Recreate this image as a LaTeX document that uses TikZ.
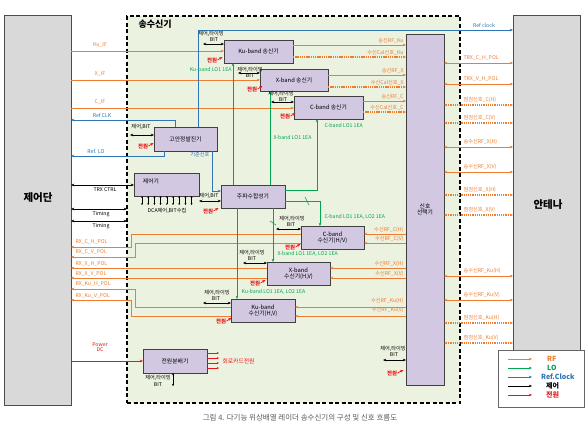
\documentclass[tikz,border=0pt]{standalone}
\usepackage{fontspec}
\setmainfont{Noto Sans CJK KR}
\usetikzlibrary{arrows.meta,calc}
\definecolor{rfc}{RGB}{237,125,49}
\definecolor{loc}{RGB}{0,166,81}
\definecolor{clkc}{RGB}{46,117,182}
\definecolor{pwc}{RGB}{235,20,20}
\definecolor{boxc}{RGB}{210,200,226}
\definecolor{innerc}{RGB}{236,242,224}
\definecolor{grayc}{RGB}{217,217,217}
\newcommand{\fsz}[1]{\fontsize{#1}{#1}\selectfont}
\begin{document}
\begin{tikzpicture}[x=1pt,y=-1pt,>={Stealth[length=3.2pt,width=2.6pt]},
 lbl/.style={inner sep=0.3pt,font=\fsz{5.2}},
 blk/.style={draw=black!75,line width=1pt,fill=boxc,inner sep=0pt,outer sep=0pt,align=center,font=\fsz{5.8}},
 rf/.style={rfc,line width=0.8pt},
 rfd/.style={rfc,line width=1.4pt,dash pattern=on 1.3pt off 0.9pt},
 lo/.style={loc,line width=0.7pt},
 clk/.style={clkc,line width=0.7pt},
 ctl/.style={black,line width=0.6pt},
 pw/.style={pwc,line width=0.7pt},
 pwl/.style={lbl,text=pwc,font=\fsz{5.4}\bfseries},
 sbox/.style={draw=black!70,fill=grayc,inner sep=0pt,outer sep=0pt,line width=0.8pt},
 slash/.style={loc,line width=0.6pt}]
\useasboundingbox[fill=white] (0,0) rectangle (588,424);

% outer frames
\node[draw=black,line width=1.5pt,dash pattern=on 4pt off 2.5pt,fill=innerc,minimum width=333pt,minimum height=387pt,inner sep=0,outer sep=0] (trx) at (293.5,209.5) {};
\node[anchor=west,font=\fsz{9}\bfseries] (trxt) at (135,24) {송수신기};
\node[sbox,minimum width=67pt,minimum height=390pt] (ctrl) at (37.5,210) {};
\node[font=\fsz{10.5}\bfseries] (ctrlt) at (38,198) {제어단};
\node[sbox,minimum width=67pt,minimum height=335pt] (ant) at (546.5,182.5) {};
\node[font=\fsz{10.5}\bfseries] (antt) at (548,205) {안테나};

% blocks
\node[blk,minimum width=38pt,minimum height=351pt] (sel) at (425,209.5) {신호\\선택기};
\node[blk,minimum width=69pt,minimum height=23pt] (kutx) at (258.5,51.5) {Ku-band 송신기};
\node[blk,minimum width=68pt,minimum height=22pt] (xtx) at (294,80) {X-band 송신기};
\node[blk,minimum width=69pt,minimum height=23pt] (ctx) at (328.5,107.5) {C-band 송신기};
\node[blk,minimum width=63pt,minimum height=24pt] (osc) at (185.5,139) {고안정발진기};
\node[blk,minimum width=65pt,minimum height=23pt] (cpu) at (166.5,184.5) {};
\node[lbl,font=\fsz{5.8}] (cput) at (151,181) {제어기};
\node[blk,minimum width=64pt,minimum height=23pt] (syn) at (253,196.5) {주파수합성기};
\node[blk,minimum width=63pt,minimum height=23pt] (crx) at (332.5,237.5) {C-band\\수신기(H/V)};
\node[blk,minimum width=63pt,minimum height=23pt] (xrx) at (298.5,273.5) {X-band\\수신기(H,V)};
\node[blk,minimum width=64pt,minimum height=23pt] (kurx) at (263,310.5) {Ku-band\\수신기(H,V)};
\node[blk,minimum width=64pt,minimum height=24pt] (pwr) at (175,361) {전원분배기};

% IF lines (control -> transmitters)
\draw[rf,->] (ctrl.east|-0,51) -- (kutx.west|-0,51);
\node[lbl,text=rfc] (l1) at (100,45) {Ku\_IF};
\draw[rf,->] (ctrl.east|-0,80) -- (xtx.west|-0,80);
\node[lbl,text=rfc] (l2) at (100,74) {X\_IF};
\draw[rf,->] (ctrl.east|-0,108) -- (ctx.west|-0,108);
\node[lbl,text=rfc] (l3) at (100,102) {C\_IF};

% RX lines (receivers -> control)
\draw[rf,->] (crx.west|-0,234) -- (131,234) -- (131,247) -- (ctrl.east|-0,247);
\node[lbl,text=rfc,anchor=west] (l4) at (75,242) {RX\_C\_H\_POL};
\draw[rf,->] (crx.west|-0,243) -- (135,243) -- (135,257) -- (ctrl.east|-0,257);
\node[lbl,text=rfc,anchor=west] (l5) at (75,252) {RX\_C\_V\_POL};
\draw[rf,->] (xrx.west|-0,268) -- (ctrl.east|-0,268);
\node[lbl,text=rfc,anchor=west] (l6) at (75,263.5) {RX\_X\_H\_POL};
\draw[rf,->] (xrx.west|-0,278) -- (ctrl.east|-0,278);
\node[lbl,text=rfc,anchor=west] (l7) at (75,273.5) {RX\_X\_V\_POL};
\draw[rf,->] (kurx.west|-0,307) -- (135,307) -- (135,289) -- (ctrl.east|-0,289);
\node[lbl,text=rfc,anchor=west] (l8) at (75,284) {RX\_Ku\_H\_POL};
\draw[rf,->] (kurx.west|-0,316) -- (131,316) -- (131,300) -- (ctrl.east|-0,300);
\node[lbl,text=rfc,anchor=west] (l9) at (75,295.5) {RX\_Ku\_V\_POL};

% transmitters -> selector
\draw[rf,->] (kutx.east|-0,45) -- (sel.west|-0,45);
\node[lbl,text=rfc,anchor=south east] (t1) at (404,44) {송신RF\_Ku};
\draw[rfd,->] (kutx.east|-0,57) -- (sel.west|-0,57);
\node[lbl,text=rfc,anchor=south east] (t2) at (404,55.5) {수신Cal신호\_Ku};
\draw[rf,->] (xtx.east|-0,75) -- (sel.west|-0,75);
\node[lbl,text=rfc,anchor=south east] (t3) at (404,74) {송신RF\_X};
\draw[rfd,->] (xtx.east|-0,87) -- (sel.west|-0,87);
\node[lbl,text=rfc,anchor=south east] (t4) at (404,85.5) {수신Cal신호\_X};
\draw[rf,->] (ctx.east|-0,101) -- (sel.west|-0,101);
\node[lbl,text=rfc,anchor=south east] (t5) at (404,100) {송신RF\_C};
\draw[rfd,->] (ctx.east|-0,112) -- (sel.west|-0,112);
\node[lbl,text=rfc,anchor=south east] (t6) at (404,110.5) {수신Cal신호\_C};

% selector -> receivers
\draw[rf,->] (sel.west|-0,234) -- (crx.east|-0,234);
\node[lbl,text=rfc,anchor=south east] (r1) at (404,233) {수신RF\_C(H)};
\draw[rf,->] (sel.west|-0,243) -- (crx.east|-0,243);
\node[lbl,text=rfc,anchor=south east] (r2) at (404,242) {수신RF\_C(V)};
\draw[rf,->] (sel.west|-0,268) -- (xrx.east|-0,268);
\node[lbl,text=rfc,anchor=south east] (r3) at (404,267) {수신RF\_X(H)};
\draw[rf,->] (sel.west|-0,278) -- (xrx.east|-0,278);
\node[lbl,text=rfc,anchor=south east] (r4) at (404,277) {수신RF\_X(V)};
\draw[rf,->] (sel.west|-0,307) -- (kurx.east|-0,307);
\node[lbl,text=rfc,anchor=south east] (r5) at (404,304) {수신RF\_Ku(H)};
\draw[rf,->] (sel.west|-0,316) -- (kurx.east|-0,316);
\node[lbl,text=rfc,anchor=south east] (r6) at (404,313.5) {수신RF\_Ku(V)};

% selector <-> antenna
\draw[rf,<->] (sel.east|-0,63) -- (ant.west|-0,63);
\node[lbl,text=rfc,anchor=south west] (a1) at (463,61) {TRX\_C\_H\_POL};
\draw[rf,<->] (sel.east|-0,84) -- (ant.west|-0,84);
\node[lbl,text=rfc,anchor=south west] (a2) at (463,82) {TRX\_V\_H\_POL};
\draw[rfd,<->] (sel.east|-0,105) -- (ant.west|-0,105);
\node[lbl,text=rfc,anchor=south west] (a3) at (463,103) {점검신호\_C(H)};
\draw[rfd,<->] (sel.east|-0,123) -- (ant.west|-0,123);
\node[lbl,text=rfc,anchor=south west] (a4) at (463,121) {점검신호\_C(V)};
\draw[rf,<->] (sel.east|-0,147) -- (ant.west|-0,147);
\node[lbl,text=rfc,anchor=south west] (a5) at (463,145) {송수신RF\_X(H)};
\draw[rf,<->] (sel.east|-0,172) -- (ant.west|-0,172);
\node[lbl,text=rfc,anchor=south west] (a6) at (463,170) {송수신RF\_X(V)};
\draw[rfd,<->] (sel.east|-0,195) -- (ant.west|-0,195);
\node[lbl,text=rfc,anchor=south west] (a7) at (463,193) {점검신호\_X(H)};
\draw[rfd,<->] (sel.east|-0,215) -- (ant.west|-0,215);
\node[lbl,text=rfc,anchor=south west] (a8) at (463,213) {점검신호\_X(V)};
\draw[rf,<->] (sel.east|-0,276) -- (ant.west|-0,276);
\node[lbl,text=rfc,anchor=south west] (a9) at (463,274) {송수신RF\_Ku(H)};
\draw[rf,<->] (sel.east|-0,300) -- (ant.west|-0,300);
\node[lbl,text=rfc,anchor=south west] (a10) at (463,298) {송수신RF\_Ku(V)};
\draw[rfd,<->] (sel.east|-0,323) -- (ant.west|-0,323);
\node[lbl,text=rfc,anchor=south west] (a11) at (463,321) {점검신호\_Ku(H)};
\draw[rfd,<->] (sel.east|-0,343) -- (ant.west|-0,343);
\node[lbl,text=rfc,anchor=south west] (a12) at (463,341) {점검신호\_Ku(V)};

% reference clock lines
\draw[clk,->] (osc.north-|198,0) -- (198,30) -- (ant.west|-0,30);
\node[lbl,text=clkc] (c1) at (484,25) {Ref clock};
\draw[clk,->] (osc.north-|175,0) -- (175,120) -- (ctrl.east|-0,120);
\node[lbl,text=clkc] (c2) at (102,115) {Ref CLK};
\draw[clk,->] (osc.south-|164,0) -- (164,156) -- (ctrl.east|-0,156);
\node[lbl,text=clkc] (c3) at (96,151) {Ref. LO};
\draw[clk,->] (osc.south-|212,0) -- (212,191) -- (syn.west|-0,191);
\node[lbl,text=clkc,anchor=east] (c4) at (210,155) {기준신호};

% LO lines
\draw[lo,->] (syn.north-|233,0) -- (kutx.south-|233,0);
\node[lbl,text=loc,anchor=east] (g1) at (232,69) {Ku-band LO1 1EA};
\draw[lo,->] (syn.north-|270,0) -- (xtx.south-|270,0);
\node[lbl,text=loc,anchor=west] (g2) at (273,137) {X-band LO1 1EA};
\draw[lo,->] (syn.east|-0,190) -- (317,190) -- (ctx.south-|317,0);
\node[lbl,text=loc,anchor=west] (g3) at (324,125) {C-band LO1 1EA};
\draw[lo,->] (syn.east|-0,201) -- (320,201) -- (crx.north-|320,0);
\draw[slash] (305,197) -- (309,205);
\node[lbl,text=loc,anchor=west] (g4) at (324,217) {C-band LO1 1EA, LO2 1EA};
\draw[lo,->] (syn.south-|273,0) -- (xrx.north-|273,0);
\draw[slash] (270,221) -- (276,225);
\node[lbl,text=loc,anchor=west] (g5) at (277,254) {X-band LO1 1EA, LO2 1EA};
\draw[lo,->] (syn.south-|237,0) -- (kurx.north-|237,0);
\node[lbl,text=loc,anchor=west] (g6) at (241,292) {Ku-band LO1 1EA, LO2 1EA};

% control lines
\draw[ctl,<->] (ctrl.east|-0,185) -- (cpu.west|-0,185);
\node[lbl] (k1) at (105,190) {TRX CTRL};
\coordinate (tm1) at (127,209);
\coordinate (tm2) at (127,221);
\draw[ctl,<->] (ctrl.east|-0,209) -- (tm1);
\node[lbl] (k2) at (101,214) {Timing};
\draw[ctl,<->] (ctrl.east|-0,221) -- (tm2);
\node[lbl] (k3) at (101,226) {Timing};
\foreach \i in {0,...,8}{
  \coordinate (dc\i) at (142+6.2*\i,205);
  \draw[ctl,<->,>={Stealth[length=1.8pt,width=1.8pt]}] (cpu.south-|dc\i) -- (dc\i);
}
\node[lbl] (k4) at (167,210.5) {DCA제어,BIT수집};
\draw[ctl,<->] (cpu.east|-0,201) -- (syn.west|-0,201);
\node[lbl] (k5) at (209,196) {제어,BIT};

% control/BIT and power markers per block
\node[lbl] (m1) at (211,34) {제어,타이밍};
\node[lbl] (m1b) at (214,40) {BIT};
\draw[ctl,<->] (203,44) -- (kutx.west|-0,44);
\node[pwl] (p1) at (212,60) {전원};
\draw[pw,->] (p1.east) -- ++(5,-3);

\node[lbl] (m2) at (250,70) {제어,타이밍};
\node[lbl] (m2b) at (250,76) {BIT};
\draw[ctl,<->] (238,73) -- (xtx.west|-0,73);
\node[pwl] (p2) at (252,89) {전원};
\draw[pw,->] (p2.east) -- ++(5,-3);

\node[lbl] (m3) at (281,94) {제어,타이밍};
\node[lbl] (m3b) at (283,100) {BIT};
\draw[ctl,<->] (271,102) -- (ctx.west|-0,102);
\node[pwl] (p3) at (285,116) {전원};
\draw[pw,->] (p3.east) -- ++(5,-3);

\node[lbl] (m4) at (141,127) {제어,BIT};
\draw[ctl,<->] (130,135) -- (osc.west|-0,135);
\node[pwl] (p4) at (143,146) {전원};
\draw[pw,->] (p4.east) -- ++(5,-3);

\node[pwl] (p5) at (208,211) {전원};
\draw[pw,->] (p5.east) -- ++(5,-3);

\node[lbl] (m6) at (292,219) {제어,타이밍};
\node[lbl] (m6b) at (291,225) {BIT};
\draw[ctl,<->] (276,229) -- (crx.west|-0,229);
\node[pwl] (p6) at (290,247) {전원};
\draw[pw,->] (p6.east) -- ++(5,-3);

\node[lbl] (m7) at (252,253) {제어,타이밍};
\node[lbl] (m7b) at (252,259) {BIT};
\draw[ctl,<->] (243,263) -- (xrx.west|-0,263);
\node[pwl] (p7) at (255,283) {전원};
\draw[pw,->] (p7.east) -- ++(5,-3);

\node[lbl] (m8) at (217,293) {제어,타이밍};
\node[lbl] (m8b) at (216,299) {BIT};
\draw[ctl,<->] (203,303) -- (kurx.west|-0,303);
\node[pwl] (p8) at (221,321) {전원};
\draw[pw,->] (p8.east) -- ++(5,-3);

\node[lbl] (m9) at (393,349) {제어,타이밍};
\node[lbl] (m9b) at (394,355) {BIT};
\draw[ctl,<->] (383,360) -- (sel.west|-0,360);
\node[pwl] (p9) at (392,373) {전원};
\draw[pw,->] (p9.east) -- ++(6,-3);

% power distribution
\draw[pw,->] (ctrl.east|-0,361) -- (pwr.west);
\node[lbl,text=pwc,align=center,font=\fsz{5.2}] (w1) at (100,347) {Power\\DC};
\node[lbl] (m10) at (158,378) {제어,타이밍};
\node[lbl] (m10b) at (158,385) {BIT};
\coordinate (pb) at (173,386);
\draw[ctl,<->,>={Stealth[length=2pt,width=2pt]}] (pwr.south-|pb) -- (pb);
\foreach \yy in {353,358,363,368}{
  \coordinate (po\yy) at (219,\yy);
  \draw[pw,->,>={Stealth[length=2.2pt,width=2pt]}] (pwr.east|-po\yy) -- (po\yy);
}
\node[lbl,text=pwc,anchor=west,font=\fsz{5.8}] (w2) at (222,361) {회로카드전원};

% legend
\node[draw=black!60,fill=white,line width=0.8pt,minimum width=86pt,minimum height=57pt,inner sep=0,outer sep=0] (leg) at (541,378.5) {};
\coordinate (lg1) at (508,359); \coordinate (lg1e) at (532,359);
\draw[rf,->] (lg1) -- (lg1e);
\node[anchor=west,text=rfc,font=\fsz{7}\bfseries,inner sep=0] (lt1) at (547,359) {RF};
\coordinate (lg2) at (508,368); \coordinate (lg2e) at (532,368);
\draw[lo,->] (lg2) -- (lg2e);
\node[anchor=west,text=loc,font=\fsz{7}\bfseries,inner sep=0] (lt2) at (547,368) {LO};
\coordinate (lg3) at (508,377); \coordinate (lg3e) at (532,377);
\draw[clk,->] (lg3) -- (lg3e);
\node[anchor=west,text=clkc,font=\fsz{7}\bfseries,inner sep=0] (lt3) at (541,377) {Ref.Clock};
\coordinate (lg4) at (508,386); \coordinate (lg4e) at (532,386);
\draw[ctl,->] (lg4) -- (lg4e);
\node[anchor=west,font=\fsz{7}\bfseries,inner sep=0] (lt4) at (546,386) {제어};
\coordinate (lg5) at (508,395); \coordinate (lg5e) at (532,395);
\draw[pw,->] (lg5) -- (lg5e);
\node[anchor=west,text=pwc,font=\fsz{7}\bfseries,inner sep=0] (lt5) at (546,395) {전원};

% caption
\node[text=black!65,font=\fsz{7.5}] (cap) at (300,418) {그림 4. 다기능 위상배열 레이더 송수신기의 구성 및 신호 흐름도};
\end{tikzpicture}
\end{document}
